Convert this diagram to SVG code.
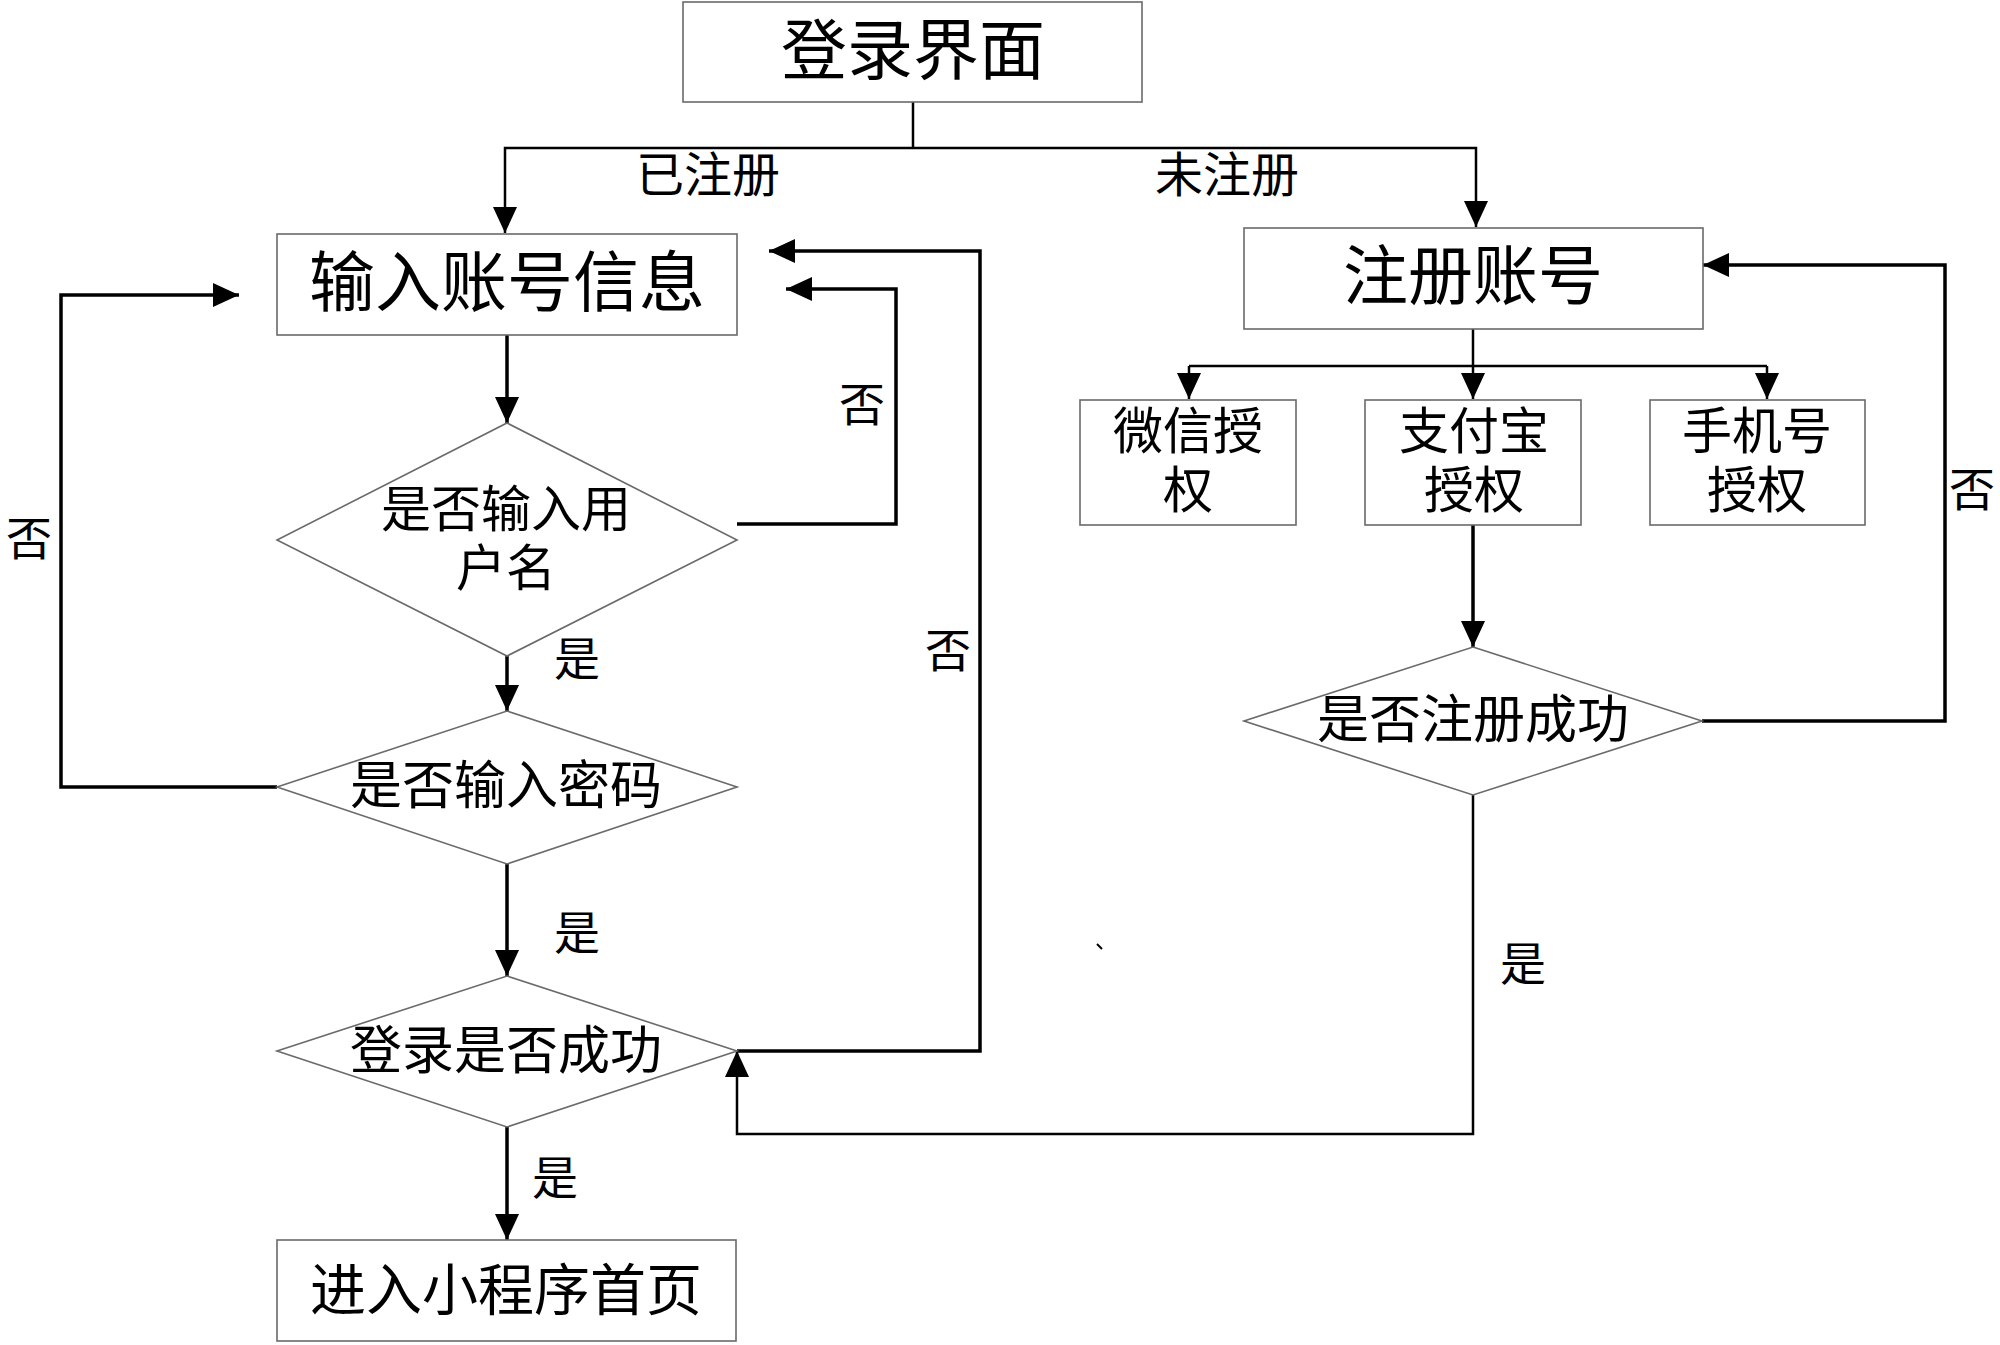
<svg xmlns="http://www.w3.org/2000/svg" width="2000" height="1345" viewBox="0 0 2000 1345">
<style>
.node{fill:#fff;stroke:#6a6a6a;stroke-width:1.6}
text{font-family:"Noto Sans CJK SC","Noto Sans",sans-serif;fill:#000;text-anchor:middle;dominant-baseline:central}
.c{fill:none;stroke:#000;stroke-width:3.5;stroke-linejoin:miter}
.t{fill:none;stroke:#000;stroke-width:2.5}
.lbl{font-size:46px}
</style>
<defs>
<marker id="ah" markerUnits="userSpaceOnUse" markerWidth="26" markerHeight="24" refX="26" refY="12" orient="auto">
<path d="M0,0 L26,12 L0,24 z" fill="#000"/>
</marker>
</defs>
<rect width="2000" height="1345" fill="#fff"/>
<g id="connectors">
<path class="t" d="M913,102 V148"/>
<path class="t" d="M913,148 H505 V233" marker-end="url(#ah)"/>
<path class="t" d="M913,148 H1476 V227" marker-end="url(#ah)"/>
<path class="c" d="M507,335 V423" marker-end="url(#ah)"/>
<path class="c" d="M507,656 V711" marker-end="url(#ah)"/>
<path class="c" d="M507,864 V976" marker-end="url(#ah)"/>
<path class="c" d="M507,1127 V1240" marker-end="url(#ah)"/>
<path class="c" d="M737,524 H896 V289 H786" marker-end="url(#ah)"/>
<path class="c" d="M277,787 H61 V295 H239" marker-end="url(#ah)"/>
<path class="c" d="M737,1051 H980 V251 H769" marker-end="url(#ah)"/>
<path class="t" d="M1473,329 V366"/>
<path class="t" d="M1189,366 H1767"/>
<path class="t" d="M1189,366 V399" marker-end="url(#ah)"/>
<path class="t" d="M1473,366 V399" marker-end="url(#ah)"/>
<path class="t" d="M1767,366 V399" marker-end="url(#ah)"/>
<path class="c" d="M1473,525 V647" marker-end="url(#ah)"/>
<path class="c" d="M1702,721 H1945 V265 H1703" marker-end="url(#ah)"/>
<path class="t" d="M1473,795 V1134 H737 V1051" marker-end="url(#ah)"/>
<text class="lbl" x="708" y="171" style="font-size:48px">已注册</text>
<text class="lbl" x="1227" y="171" style="font-size:48px">未注册</text>
<text class="lbl" x="862" y="401">否</text>
<text class="lbl" x="948" y="647">否</text>
<text class="lbl" x="29" y="535">否</text>
<text class="lbl" x="1972" y="486">否</text>
<text class="lbl" x="577" y="655">是</text>
<text class="lbl" x="577" y="929">是</text>
<text class="lbl" x="555" y="1174">是</text>
<text class="lbl" x="1523" y="960">是</text>
</g>
<g id="n_login">
<rect class="node" x="683" y="2" width="459" height="100"/>
<text x="913" y="45" style="font-size:66px">登录界面</text>
</g>
<g id="n_input">
<rect class="node" x="277" y="234" width="460" height="101"/>
<text x="507" y="277" style="font-size:66px">输入账号信息</text>
</g>
<g id="n_register">
<rect class="node" x="1244" y="228" width="459" height="101"/>
<text x="1473" y="271" style="font-size:65px">注册账号</text>
</g>
<g id="n_wechat">
<rect class="node" x="1080" y="400" width="216" height="125"/>
<text x="1188" y="427" style="font-size:50px"><tspan x="1188">微信授</tspan><tspan x="1188" dy="59">权</tspan></text>
</g>
<g id="n_alipay">
<rect class="node" x="1365" y="400" width="216" height="125"/>
<text x="1474" y="427" style="font-size:50px"><tspan x="1474">支付宝</tspan><tspan x="1474" dy="59">授权</tspan></text>
</g>
<g id="n_phone">
<rect class="node" x="1650" y="400" width="215" height="125"/>
<text x="1757" y="427" style="font-size:50px"><tspan x="1757">手机号</tspan><tspan x="1757" dy="59">授权</tspan></text>
</g>
<g id="d_username">
<polygon class="node" points="507,423 737,540 507,656 277,540"/>
<text x="506" y="505" style="font-size:50px"><tspan x="506">是否输入用</tspan><tspan x="506" dy="59">户名</tspan></text>
</g>
<g id="d_password">
<polygon class="node" points="507,711 737,787 507,864 277,787"/>
<text x="506" y="781" style="font-size:52px">是否输入密码</text>
</g>
<g id="d_loginok">
<polygon class="node" points="507,976 737,1051 507,1127 277,1051"/>
<text x="506" y="1046" style="font-size:52px">登录是否成功</text>
</g>
<g id="d_regok">
<polygon class="node" points="1473,647 1702,721 1473,795 1244,721"/>
<text x="1473" y="715" style="font-size:52px">是否注册成功</text>
</g>
<g id="n_home">
<rect class="node" x="277" y="1240" width="459" height="101"/>
<text x="506" y="1285" style="font-size:56px">进入小程序首页</text>
</g>
<path d="M1097,944 L1102,949" stroke="#000" stroke-width="2" fill="none"/>
</svg>
